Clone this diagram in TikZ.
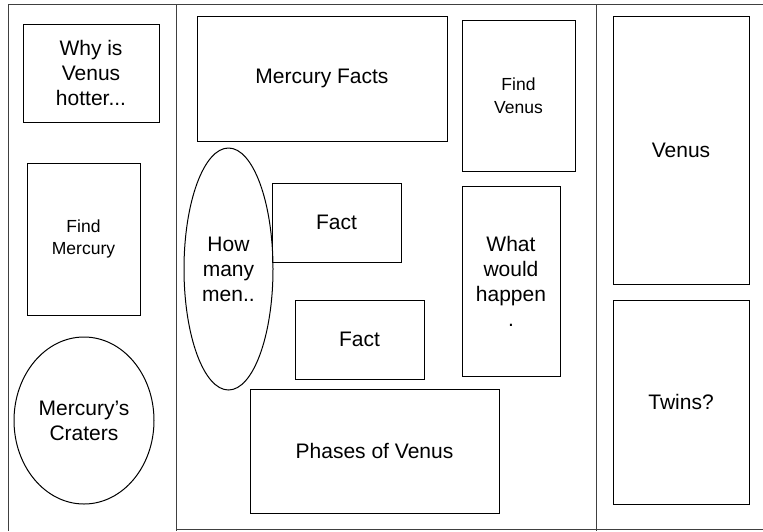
\documentclass[tikz,border=0pt]{standalone}
\usepackage{fontspec}
\setmainfont{Liberation Sans}
\usetikzlibrary{shapes.geometric}
\begin{document}
\begin{tikzpicture}[x=1pt,y=-1pt,
  line width=1pt,
  frameline/.style={draw=black!75, line width=1pt},
  box/.style={draw, rectangle, inner sep=0pt, align=center, font=\fontsize{21}{25}\selectfont},
  smallbox/.style={box, font=\fontsize{17.5}{22.5}\selectfont},
  oval/.style={draw, ellipse, inner sep=0pt, align=center, font=\fontsize{21}{25}\selectfont}]
\useasboundingbox (0,0) rectangle (763,531);
% frame
\coordinate (tl) at (8,4);
\coordinate (tr) at (763,4);
\coordinate (bl) at (8,531);
\coordinate (d1t) at (176,4);
\coordinate (d1b) at (176,531);
\coordinate (d2t) at (596,4);
\coordinate (d2b) at (596,531);
\coordinate (bm) at (176,529.5);
\coordinate (br) at (763,529.5);
\draw[frameline] (tl) -- (tr);
\draw[frameline] (tl) -- (bl);
\draw[frameline] (bm) -- (br);
\draw[frameline] (d1t) -- (d1b);
\draw[frameline] (d2t) -- (d2b);
% left column
\node[box, minimum width=136, minimum height=98] (why) at (91,73) {Why is\\Venus\\hotter...};
\node[smallbox, minimum width=113, minimum height=152] (findm) at (83.5,239) {Find\\Mercury};
\node[oval, minimum width=140, minimum height=167] (craters) at (84,420.5) {Mercury’s\\Craters};
% middle column
\node[box, minimum width=250, minimum height=125] (mfacts) at (322,78.5) {Mercury Facts};
\node[smallbox, minimum width=113, minimum height=151] (findv) at (518.5,95.5) {Find\\Venus};
\node[oval, minimum width=89, minimum height=242] (howmany) at (228.5,269) {How\\many\\men..};
\node[box, minimum width=129, minimum height=79] (fact1) at (336.5,222.5) {Fact};
\node[box, minimum width=129, minimum height=79] (fact2) at (359.5,339.5) {Fact};
\node[box, minimum width=98, minimum height=190] (what) at (511,281) {What\\would\\happen\\.};
\node[box, minimum width=249, minimum height=124] (phases) at (374.5,451) {Phases of Venus};
% right column
\node[box, minimum width=136, minimum height=268] (venus) at (681,150) {Venus};
\node[box, minimum width=136, minimum height=204] (twins) at (681,402) {Twins?};
\end{tikzpicture}
\end{document}
